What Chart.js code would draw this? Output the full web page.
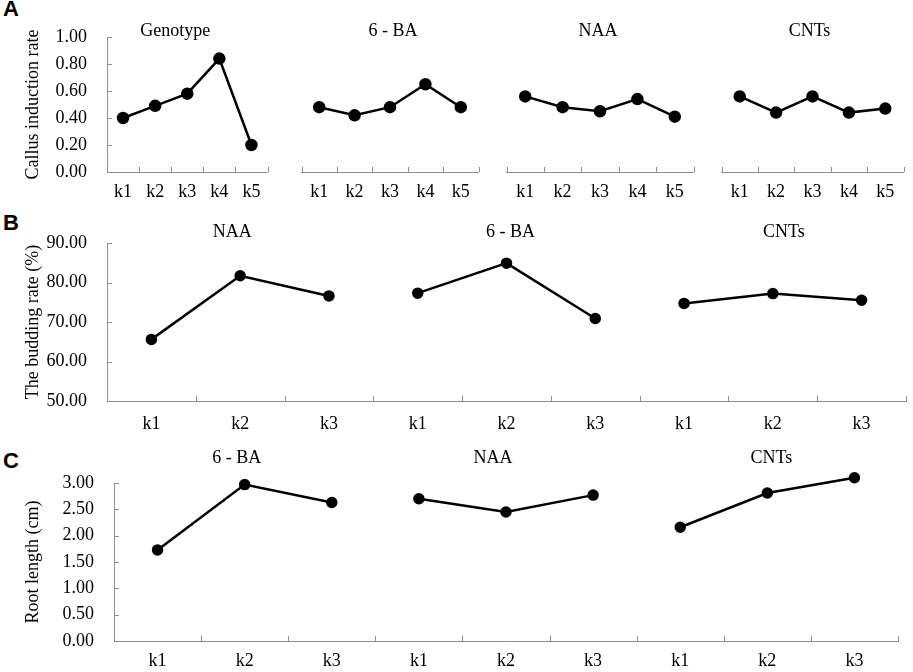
<!DOCTYPE html>
<html>
<head>
<meta charset="utf-8">
<script src="https://cdn.jsdelivr.net/npm/chart.js@4.4.1/dist/chart.umd.min.js"></script>
<style>
  body { margin: 0; background: #fff; width: 913px; height: 672px; position: relative; overflow: hidden; }
  .box { position: absolute; }
  .tag { position: absolute; font-family: "Liberation Sans", Arial, sans-serif; font-weight: bold; font-size: 22px; color: #000; }
</style>
</head>
<body>
<div class="tag" style="left:3px;top:-4px">A</div>
<div class="tag" style="left:3px;top:210px">B</div>
<div class="tag" style="left:3px;top:448px">C</div>

<div class="box" style="left:0;top:0"><canvas id="a1" width="275" height="205"></canvas></div>
<div class="box" style="left:294px;top:0"><canvas id="a2" width="192" height="205"></canvas></div>
<div class="box" style="left:499px;top:0"><canvas id="a3" width="202" height="205"></canvas></div>
<div class="box" style="left:714px;top:0"><canvas id="a4" width="197" height="205"></canvas></div>
<div class="box" style="left:0;top:205px"><canvas id="b" width="913" height="230"></canvas></div>
<div class="box" style="left:0;top:435px"><canvas id="c" width="913" height="237"></canvas></div>

<script>
// levels of each factor
const levelsA = ['k1', 'k2', 'k3', 'k4', 'k5'];
const levelsBC = ['k1', 'k2', 'k3'];

// A - callus induction rate
const callusGenotype = [0.40, 0.49, 0.58, 0.84, 0.20];
const callusBA = [0.48, 0.42, 0.48, 0.65, 0.48];
const callusNAA = [0.56, 0.48, 0.45, 0.54, 0.41];
const callusCNTs = [0.56, 0.44, 0.56, 0.44, 0.47];

// B - budding rate (%)
const buddingNAA = [65.6, 81.7, 76.6];
const buddingBA = [77.3, 84.9, 70.9];
const buddingCNTs = [74.7, 77.2, 75.5];

// C - root length (cm)
const rootBA = [1.73, 2.97, 2.63];
const rootNAA = [2.70, 2.45, 2.77];
const rootCNTs = [2.16, 2.81, 3.10];

// y tick labels
const ticksA = [0, 0.2, 0.4, 0.6, 0.8, 1.0];
const ticksB = [50, 60, 70, 80, 90];
const ticksC = [0, 0.5, 1.0, 1.5, 2.0, 2.5, 3.0];

const axisColor = '#8f8f8f';
const serif = '"Liberation Serif", "Times New Roman", serif';

// small tick marks pointing into the plot
const innerTicks = {
    id: 'innerTicks',
    beforeDatasetsDraw(chart) {
        const ctx = chart.ctx, a = chart.chartArea;
        const xs = chart.scales.x, ys = chart.scales.y;
        ctx.save();
        ctx.strokeStyle = axisColor;
        ctx.lineWidth = 1;
        ctx.beginPath();
        const n = xs.getLabels().length;
        for (let i = 0; i <= n; i++) {
            const px = Math.round(xs.left + i * xs.width / n) + 0.5;
            ctx.moveTo(px, a.bottom);
            ctx.lineTo(px, a.bottom - 5);
        }
        if (ys.options.display) {
            ys.ticks.forEach(t => {
                const py = Math.round(ys.getPixelForValue(t.value)) + 0.5;
                ctx.moveTo(a.left, py);
                ctx.lineTo(a.left + 5, py);
            });
        }
        ctx.stroke();
        ctx.restore();
    }
};

// factor names above each group
const groupTitles = {
    id: 'groupTitles',
    afterDraw(chart, args, opts) {
        const ctx = chart.ctx, xs = chart.scales.x;
        ctx.save();
        ctx.font = '18px ' + serif;
        ctx.fillStyle = '#000';
        ctx.textAlign = 'center';
        ctx.textBaseline = 'middle';
        (opts.items || []).forEach(t => {
            const cx = (xs.getPixelForValue(t.from) + xs.getPixelForValue(t.to)) / 2 + (t.dx || 0);
            ctx.fillText(t.text, cx, chart.chartArea.top + opts.dy);
        });
        ctx.restore();
    }
};

function series(values, group, groups, radius) {
    const data = [];
    for (let g = 0; g < groups; g++) {
        values.forEach((v, i) => data.push(g === group ? v : null));
    }
    return {
        data: data,
        borderColor: '#000',
        backgroundColor: '#000',
        borderWidth: 2.5,
        pointRadius: radius,
        pointHoverRadius: radius,
        pointBackgroundColor: '#000',
        pointBorderColor: '#000',
        spanGaps: false,
        tension: 0,
        clip: false
    };
}

function makeChart(id, labels, datasets, cfg) {
    return new Chart(document.getElementById(id), {
        type: 'line',
        data: { labels: labels, datasets: datasets },
        options: {
            responsive: false,
            animation: false,
            events: [],
            layout: { padding: cfg.padding },
            plugins: {
                legend: { display: false },
                tooltip: { enabled: false },
                groupTitles: { items: cfg.titles, dy: cfg.titleDy }
            },
            scales: {
                x: {
                    type: 'category',
                    offset: true,
                    grid: { display: false, drawTicks: false },
                    border: { display: true, color: axisColor, width: 1 },
                    ticks: {
                        color: '#000',
                        font: { family: serif, size: 18 },
                        padding: cfg.xPad,
                        maxRotation: 0,
                        autoSkip: false
                    },
                    afterFit(s) { s.height = cfg.xHeight; }
                },
                y: {
                    display: !!cfg.yTitle,
                    min: cfg.yTicks[0],
                    max: cfg.yTicks[cfg.yTicks.length - 1],
                    grid: { display: false, drawTicks: false },
                    border: { display: true, color: axisColor, width: 1 },
                    ticks: {
                        stepSize: cfg.yTicks[1] - cfg.yTicks[0],
                        color: '#000',
                        font: { family: serif, size: 18 },
                        padding: 20,
                        callback: v => Number(v).toFixed(2)
                    },
                    title: {
                        display: !!cfg.yTitle,
                        text: cfg.yTitle,
                        color: '#000',
                        font: { family: serif, size: 18 },
                        padding: 0
                    },
                    afterFit(s) { s.width = cfg.yWidth; }
                }
            }
        },
        plugins: [innerTicks, groupTitles]
    });
}

// panel A: four separate small plots sharing the same y range
const aCommon = { yTicks: ticksA, xHeight: 33, xPad: 9, titleDy: -6 };
makeChart('a1', levelsA, [series(callusGenotype, 0, 1, 5)], Object.assign({}, aCommon, {
    padding: { left: 22, right: 5, top: 37, bottom: 0 }, yWidth: 85, yTitle: 'Callus induction rate',
    titles: [{ text: 'Genotype', from: 0, to: 4, dx: -12 }]
}));
makeChart('a2', levelsA, [series(callusBA, 0, 1, 5)], Object.assign({}, aCommon, {
    padding: { left: 5, right: 5, top: 37, bottom: 0 }, yWidth: 0,
    titles: [{ text: '6 - BA', from: 0, to: 4, dx: 3 }]
}));
makeChart('a3', levelsA, [series(callusNAA, 0, 1, 5)], Object.assign({}, aCommon, {
    padding: { left: 5, right: 5, top: 37, bottom: 0 }, yWidth: 0,
    titles: [{ text: 'NAA', from: 0, to: 4, dx: -2 }]
}));
makeChart('a4', levelsA, [series(callusCNTs, 0, 1, 5)], Object.assign({}, aCommon, {
    padding: { left: 5, right: 5, top: 37, bottom: 0 }, yWidth: 0,
    titles: [{ text: 'CNTs', from: 0, to: 4, dx: -3 }]
}));

// panel B: one shared axis, three factors side by side
const labelsB = [].concat(levelsBC, levelsBC, levelsBC);
makeChart('b', labelsB, [
    series(buddingNAA, 0, 3, 4.5),
    series(buddingBA, 1, 3, 4.5),
    series(buddingCNTs, 2, 3, 4.5)
], {
    yTicks: ticksB, yTitle: 'The budding rate (%)', yWidth: 85,
    padding: { left: 22, right: 2, top: 38, bottom: 0 },
    xHeight: 34, xPad: 12, titleDy: -11,
    titles: [
        { text: 'NAA', from: 0, to: 2, dx: -8 },
        { text: '6 - BA', from: 3, to: 5, dx: 4 },
        { text: 'CNTs', from: 6, to: 8, dx: 11 }
    ]
});

// panel C
makeChart('c', labelsB, [
    series(rootBA, 0, 3, 4.5),
    series(rootNAA, 1, 3, 4.5),
    series(rootCNTs, 2, 3, 4.5)
], {
    yTicks: ticksC, yTitle: 'Root length (cm)', yWidth: 92,
    padding: { left: 22, right: 15, top: 48, bottom: 0 },
    xHeight: 31, xPad: 9, titleDy: -25,
    titles: [
        { text: '6 - BA', from: 0, to: 2, dx: -8 },
        { text: 'NAA', from: 3, to: 5, dx: -13 },
        { text: 'CNTs', from: 6, to: 8, dx: 4 }
    ]
});
</script>
</body>
</html>
